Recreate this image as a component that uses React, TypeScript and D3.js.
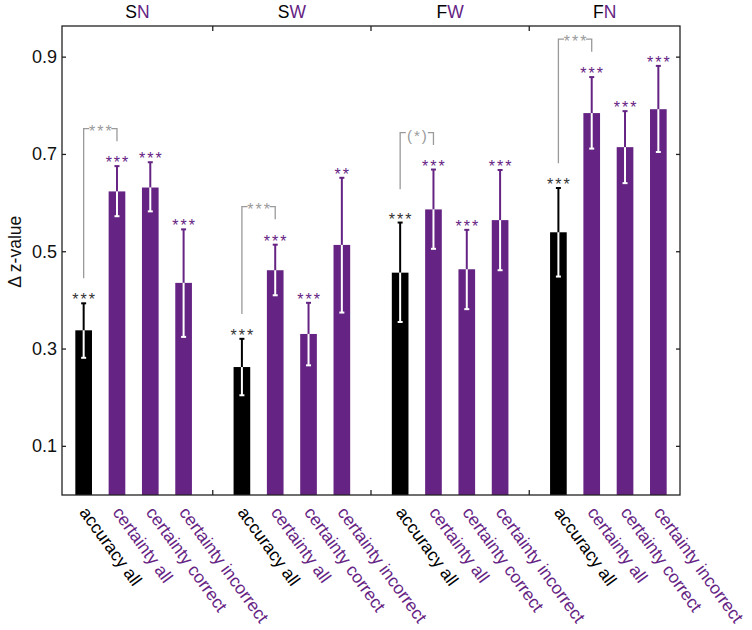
import React from "react";
import * as d3 from "d3";

const groupFirst = ["S", "S", "F", "F"];
const groupSecond = ["N", "W", "W", "N"];
const measures = ["accuracy all", "certainty all", "certainty correct", "certainty incorrect"];
const means = [
  [0.3385, 0.624, 0.632, 0.436],
  [0.263, 0.462, 0.331, 0.514],
  [0.457, 0.587, 0.464, 0.565],
  [0.54, 0.785, 0.715, 0.793],
];
const errHigh = [
  [0.394, 0.676, 0.684, 0.546],
  [0.321, 0.5145, 0.395, 0.652],
  [0.56, 0.669, 0.545, 0.668],
  [0.631, 0.859, 0.789, 0.882],
];
const errLow = [
  [0.282, 0.573, 0.583, 0.325],
  [0.205, 0.4105, 0.2665, 0.375],
  [0.3556, 0.506, 0.382, 0.462],
  [0.449, 0.712, 0.641, 0.705],
];
const sigLabels = [
  ["***", "***", "***", "***"],
  ["***", "***", "***", "**"],
  ["***", "***", "***", "***"],
  ["***", "***", "***", "***"],
];
const bracketLabels = ["***", "***", "(*)", "***"];
const bracketTop = [0.753, 0.5926, 0.745, 0.937];
const bracketLeftBottom = [0.4454, 0.372, 0.6284, 0.6818];
const yTicks = [0.1, 0.3, 0.5, 0.7, 0.9];

const PURPLE = "#652383";
const BLACK = "#000000";
const GREY = "#9a9a9a";
const FONT = "'Liberation Sans', Arial, Helvetica, sans-serif";

export default function App() {
  const W = 752, H = 630;
  const left = 62, right = 680, top = 26, bottom = 495;
  const stride = 4.75;
  const x = d3.scaleLinear().domain([-0.65, 3 * stride + 3 + 0.65]).range([left, right]);
  const y = d3.scaleLinear().domain([0, 0.964]).range([bottom, top]);
  const barW = x(0.5) - x(0);
  const seps = [0, 1, 2].map((g) => x(g * stride + 3.875));
  const bounds = [left, ...seps, right];
  const colorOf = (i: number) => (i === 0 ? BLACK : PURPLE);
  const cap = 2.5;

  return (
    <svg width={W} height={H} style={{ position: "absolute", left: 0, top: 0, background: "#fff" }} fontFamily={FONT}>
      {groupFirst.map((f, g) => (
        <text key={"t" + g} x={(bounds[g] + bounds[g + 1]) / 2} y={17.5} textAnchor="middle" fontSize={17.5}>
          <tspan fill={BLACK}>{f}</tspan>
          <tspan fill={PURPLE}>{groupSecond[g]}</tspan>
        </text>
      ))}
      {means.map((row, g) =>
        row.map((v, i) => {
          const cx = x(g * stride + i);
          const col = colorOf(i);
          return (
            <g key={`b${g}-${i}`}>
              <rect x={cx - barW / 2} y={y(v)} width={barW} height={y(0) - y(v)} fill={col} />
              <line x1={cx} x2={cx} y1={y(v)} y2={y(errHigh[g][i])} stroke={col} strokeWidth={2} />
              <line x1={cx - cap} x2={cx + cap} y1={y(errHigh[g][i])} y2={y(errHigh[g][i])} stroke={col} strokeWidth={2} />
              <line x1={cx} x2={cx} y1={y(v)} y2={y(errLow[g][i])} stroke="#fff" strokeWidth={2} />
              <line x1={cx - cap} x2={cx + cap} y1={y(errLow[g][i])} y2={y(errLow[g][i])} stroke="#fff" strokeWidth={2} />
              <text x={cx + 1} y={y(errHigh[g][i]) + 2} textAnchor="middle" fontSize={16} fill={i === 0 ? "#333" : PURPLE} letterSpacing={2}>
                {sigLabels[g][i]}
              </text>
            </g>
          );
        })
      )}
      {bracketLabels.map((lab, g) => {
        const x0 = x(g * stride);
        const x1 = x(g * stride + 1);
        const yt = y(bracketTop[g]);
        const mid = (x0 + x1) / 2;
        const gap = 11;
        return (
          <g key={"br" + g} stroke={GREY} strokeWidth={1.3} fill="none">
            <polyline points={`${x0},${y(bracketLeftBottom[g])} ${x0},${yt} ${mid - gap},${yt}`} />
            <polyline points={`${mid + gap},${yt} ${x1},${yt} ${x1},${yt + 12.5}`} />
            <text x={mid + 1} y={yt + 8} textAnchor="middle" fontSize={lab === "(*)" ? 15 : 16} letterSpacing={2} fill={GREY} stroke="none">
              {lab}
            </text>
          </g>
        );
      })}
      <rect x={left} y={top} width={right - left} height={bottom - top} fill="none" stroke="#222" strokeWidth={1.3} />
      {seps.map((s, k) => (
        <g key={"s" + k} stroke="#222" strokeWidth={1.3}>
          <line x1={s} x2={s} y1={top} y2={top + 5} />
          <line x1={s} x2={s} y1={bottom} y2={bottom - 5} />
        </g>
      ))}
      {yTicks.map((t) => (
        <g key={"y" + t}>
          <line x1={left} x2={left + 4} y1={y(t)} y2={y(t)} stroke="#222" strokeWidth={1.3} />
          <line x1={right} x2={right - 4} y1={y(t)} y2={y(t)} stroke="#222" strokeWidth={1.3} />
          <text x={57} y={y(t)} textAnchor="end" dominantBaseline="central" fontSize={18} fill="#111">
            {t.toFixed(1)}
          </text>
        </g>
      ))}
      <text transform={`translate(20.5,${y(0.5)}) rotate(-90)`} textAnchor="middle" fontSize={17.5} fill="#111">
        Δ z-value
      </text>
      {means.map((row, g) =>
        row.map((_, i) => {
          const cx = x(g * stride + i);
          return (
            <text
              key={`xl${g}-${i}`}
              transform={`translate(${cx - 5},${bottom + 17.5}) rotate(54)`}
              fontSize={17.5}
              fill={i === 0 ? BLACK : PURPLE}
            >
              {measures[i]}
            </text>
          );
        })
      )}
    </svg>
  );
}
